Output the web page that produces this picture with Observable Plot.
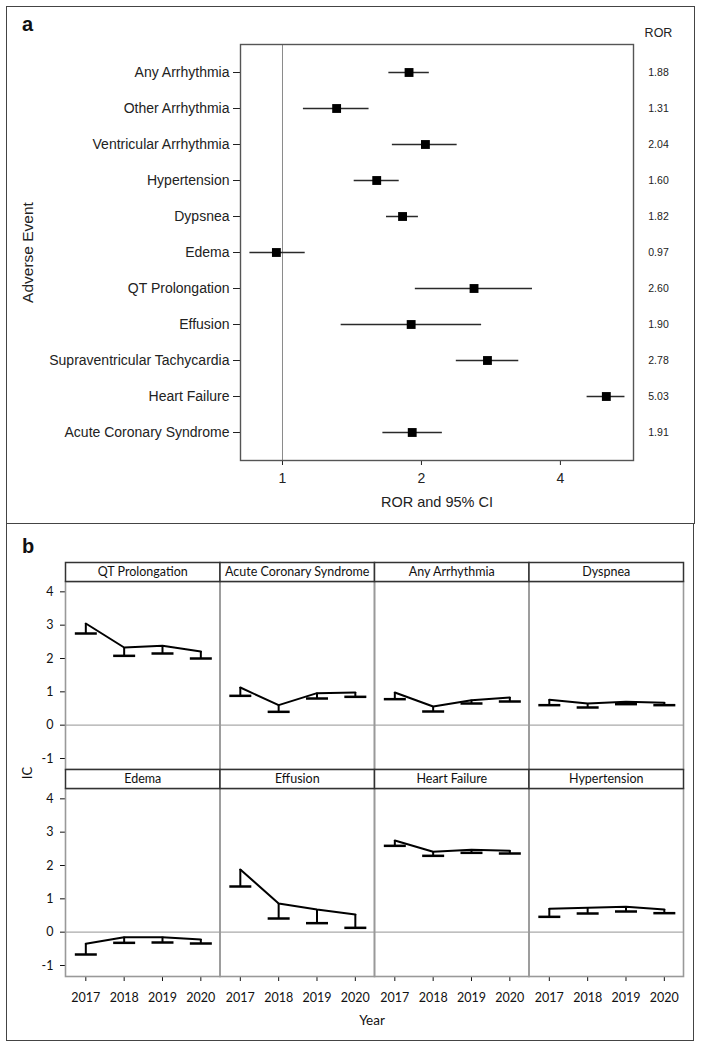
<!DOCTYPE html>
<html><head><meta charset="utf-8">
<script src="https://cdn.jsdelivr.net/npm/d3@7"></script>
<script src="https://cdn.jsdelivr.net/npm/@observablehq/plot@0.6"></script>
<style>
body{margin:0;background:#fff;}
#page{position:relative;width:703px;height:1048px;overflow:hidden;background:#fff;}
#page svg{position:absolute;left:0;}
.box{position:absolute;border:1.5px solid #444;box-sizing:border-box;pointer-events:none;}
.lbl{position:absolute;white-space:nowrap;color:#111;}
</style></head>
<body><div id="page"></div>
<script>
// ---------- Panel a data ----------
const events = ["Any Arrhythmia","Other Arrhythmia","Ventricular Arrhythmia","Hypertension","Dypsnea","Edema","QT Prolongation","Effusion","Supraventricular Tachycardia","Heart Failure","Acute Coronary Syndrome"];
const ror   = [1.88, 1.31, 2.04, 1.60, 1.82, 0.97, 2.60, 1.90, 2.78, 5.03, 1.91];
const lower = [1.70, 1.11, 1.73, 1.43, 1.68, 0.85, 1.94, 1.34, 2.38, 4.57, 1.65];
const upper = [2.08, 1.54, 2.39, 1.79, 1.97, 1.12, 3.48, 2.70, 3.25, 5.52, 2.22];
const rorTicks = [1, 2, 4];

// ---------- Panel b data ----------
const facetEvents = ["QT Prolongation","Acute Coronary Syndrome","Any Arrhythmia","Dyspnea","Edema","Effusion","Heart Failure","Hypertension"];
const years = [2017, 2018, 2019, 2020];
const icQT  = [3.05, 2.33, 2.38, 2.21];  const loQT  = [2.75, 2.08, 2.15, 2.00];
const icACS = [1.13, 0.60, 0.96, 0.98];  const loACS = [0.88, 0.40, 0.80, 0.85];
const icAny = [0.98, 0.56, 0.75, 0.83];  const loAny = [0.78, 0.41, 0.65, 0.71];
const icDys = [0.76, 0.65, 0.70, 0.67];  const loDys = [0.60, 0.53, 0.63, 0.60];
const icEde = [-0.35, -0.15, -0.15, -0.22]; const loEde = [-0.67, -0.32, -0.31, -0.34];
const icEff = [1.88, 0.86, 0.68, 0.53];  const loEff = [1.37, 0.41, 0.27, 0.13];
const icHF  = [2.75, 2.41, 2.47, 2.44];  const loHF  = [2.59, 2.29, 2.38, 2.36];
const icHyp = [0.70, 0.73, 0.76, 0.68];  const loHyp = [0.46, 0.56, 0.62, 0.57];
const icSeries = [icQT, icACS, icAny, icDys, icEde, icEff, icHF, icHyp];
const loSeries = [loQT, loACS, loAny, loDys, loEde, loEff, loHF, loHyp];
const icTicks = [-1, 0, 1, 2, 3, 4];

const page = document.getElementById("page");

// ---------- Panel a ----------
const rorData = events.map((e, i) => ({event: e, ror: ror[i], lo: lower[i], hi: upper[i]}));
const fontA = "'Liberation Sans', Arial, sans-serif";
const plotA = Plot.plot({
  width: 703, height: 523,
  marginTop: 44, marginBottom: 63, marginLeft: 240, marginRight: 70,
  style: {fontFamily: fontA, fontSize: "14px", background: "transparent", color: "#222"},
  x: {type: "log", domain: [0.811, 5.76], ticks: rorTicks, tickFormat: d => String(d), tickSize: 5, tickPadding: 8, label: null},
  y: {type: "point", domain: events, padding: 0.714, tickSize: 7, tickPadding: 4, label: null},
  marks: [
    Plot.ruleX([1], {stroke: "#8a8a8a", strokeWidth: 1}),
    Plot.frame({stroke: "#555", strokeWidth: 1.4}),
    Plot.ruleY(rorData, {y: "event", x1: "lo", x2: "hi", stroke: "#2a2a2a", strokeWidth: 1.5}),
    Plot.dot(rorData, {y: "event", x: "ror", symbol: "square", r: 5, fill: "#000"}),
    Plot.text(rorData, {y: "event", text: d => d.ror.toFixed(2), frameAnchor: "right", textAnchor: "middle", dx: 25, fontSize: 10.5}),
    Plot.text(["ROR"], {text: d => d, frameAnchor: "top-right", textAnchor: "middle", lineAnchor: "middle", dx: 25, dy: -12, fontSize: 12.5}),
    Plot.text(["Adverse Event"], {text: d => d, frameAnchor: "left", textAnchor: "middle", lineAnchor: "middle", rotate: -90, dx: -212, fontSize: 15.5}),
    Plot.text(["ROR and 95% CI"], {text: d => d, frameAnchor: "bottom", lineAnchor: "middle", dy: 42, fontSize: 14.5})
  ]
});
plotA.style.top = "0px";
page.appendChild(plotA);

// ---------- Panel b ----------
const icData = [];
facetEvents.forEach((e, i) => years.forEach((yr, j) => icData.push({
  event: e, col: i % 4, row: Math.floor(i / 4), year: yr, ic: icSeries[i][j], lo: loSeries[i][j]
})));
const facetH = 188, stripH = 19;
const capSymbol = {draw(ctx, size) { const r = Math.sqrt(size / Math.PI); ctx.moveTo(-r, 0); ctx.lineTo(r, 0); }};
const fontB = "Lato, 'Open Sans', sans-serif";
const plotB = Plot.plot({
  width: 703, height: 525,
  marginTop: 58, marginBottom: 525 - 58 - (2 * facetH + stripH), marginLeft: 65, marginRight: 20,
  style: {fontFamily: fontB, fontSize: "12.5px", background: "transparent", color: "#111"},
  facet: {data: icData, x: "col", y: "row"},
  fx: {domain: [0, 1, 2, 3], axis: null, paddingInner: 0, paddingOuter: 0, round: false},
  fy: {domain: [0, 1], axis: null, paddingInner: stripH / (facetH + stripH), paddingOuter: 0, round: false},
  x: {domain: [2016.47, 2020.5], ticks: years, tickFormat: d => String(d), tickSize: 5, tickPadding: 12, label: null},
  y: {domain: [-1.33, 4.31], ticks: icTicks, tickFormat: d => String(d), tickSize: 5, tickPadding: 7, label: null},
  marks: [
    Plot.ruleY([0], {stroke: "#aaa", strokeWidth: 1.3}),
    Plot.frame({stroke: "#999", strokeWidth: 1.6}),
    Plot.frame({insetTop: -stripH, insetBottom: facetH, fill: "#fff", stroke: "#333", strokeWidth: 1.5}),
    Plot.text(icData, Plot.selectFirst({text: "event", frameAnchor: "top", lineAnchor: "middle", dy: -stripH / 2, fontSize: 12.5})),
    Plot.line(icData, {x: "year", y: "ic", stroke: "#000", strokeWidth: 2}),
    Plot.ruleX(icData, {x: "year", y1: "ic", y2: "lo", stroke: "#000", strokeWidth: 2}),
    Plot.dot(icData, {x: "year", y: "lo", symbol: capSymbol, r: 11, stroke: "#000", strokeWidth: 2.5, fill: "none"})
  ]
});
plotB.style.top = "523px";
page.appendChild(plotB);

// ---------- Panel labels, shared axis titles, borders ----------
function addLabel(text, css) {
  const d = document.createElement("div");
  d.className = "lbl"; d.textContent = text;
  Object.assign(d.style, css);
  page.appendChild(d);
  return d;
}
addLabel("a", {left: "22px", top: "14px", font: "bold 20px 'Liberation Sans', Arial, sans-serif", lineHeight: "20px"});
addLabel("b", {left: "22px", top: "536px", font: "bold 20px 'Liberation Sans', Arial, sans-serif", lineHeight: "20px"});
addLabel("IC", {left: "27px", top: "773px", font: "13px Lato, sans-serif", lineHeight: "13px", transform: "translate(-50%,-50%) rotate(-90deg)"});
addLabel("Year", {left: "372px", top: "1020px", font: "13.5px Lato, sans-serif", lineHeight: "13px", transform: "translate(-50%,-50%)"});

const boxA = document.createElement("div");
boxA.className = "box"; Object.assign(boxA.style, {left: "6px", top: "6px", width: "689px", height: "518px"});
page.appendChild(boxA);
const boxB = document.createElement("div");
boxB.className = "box"; Object.assign(boxB.style, {left: "6px", top: "522.5px", width: "688px", height: "518px"});
page.appendChild(boxB);
</script>
</body></html>
